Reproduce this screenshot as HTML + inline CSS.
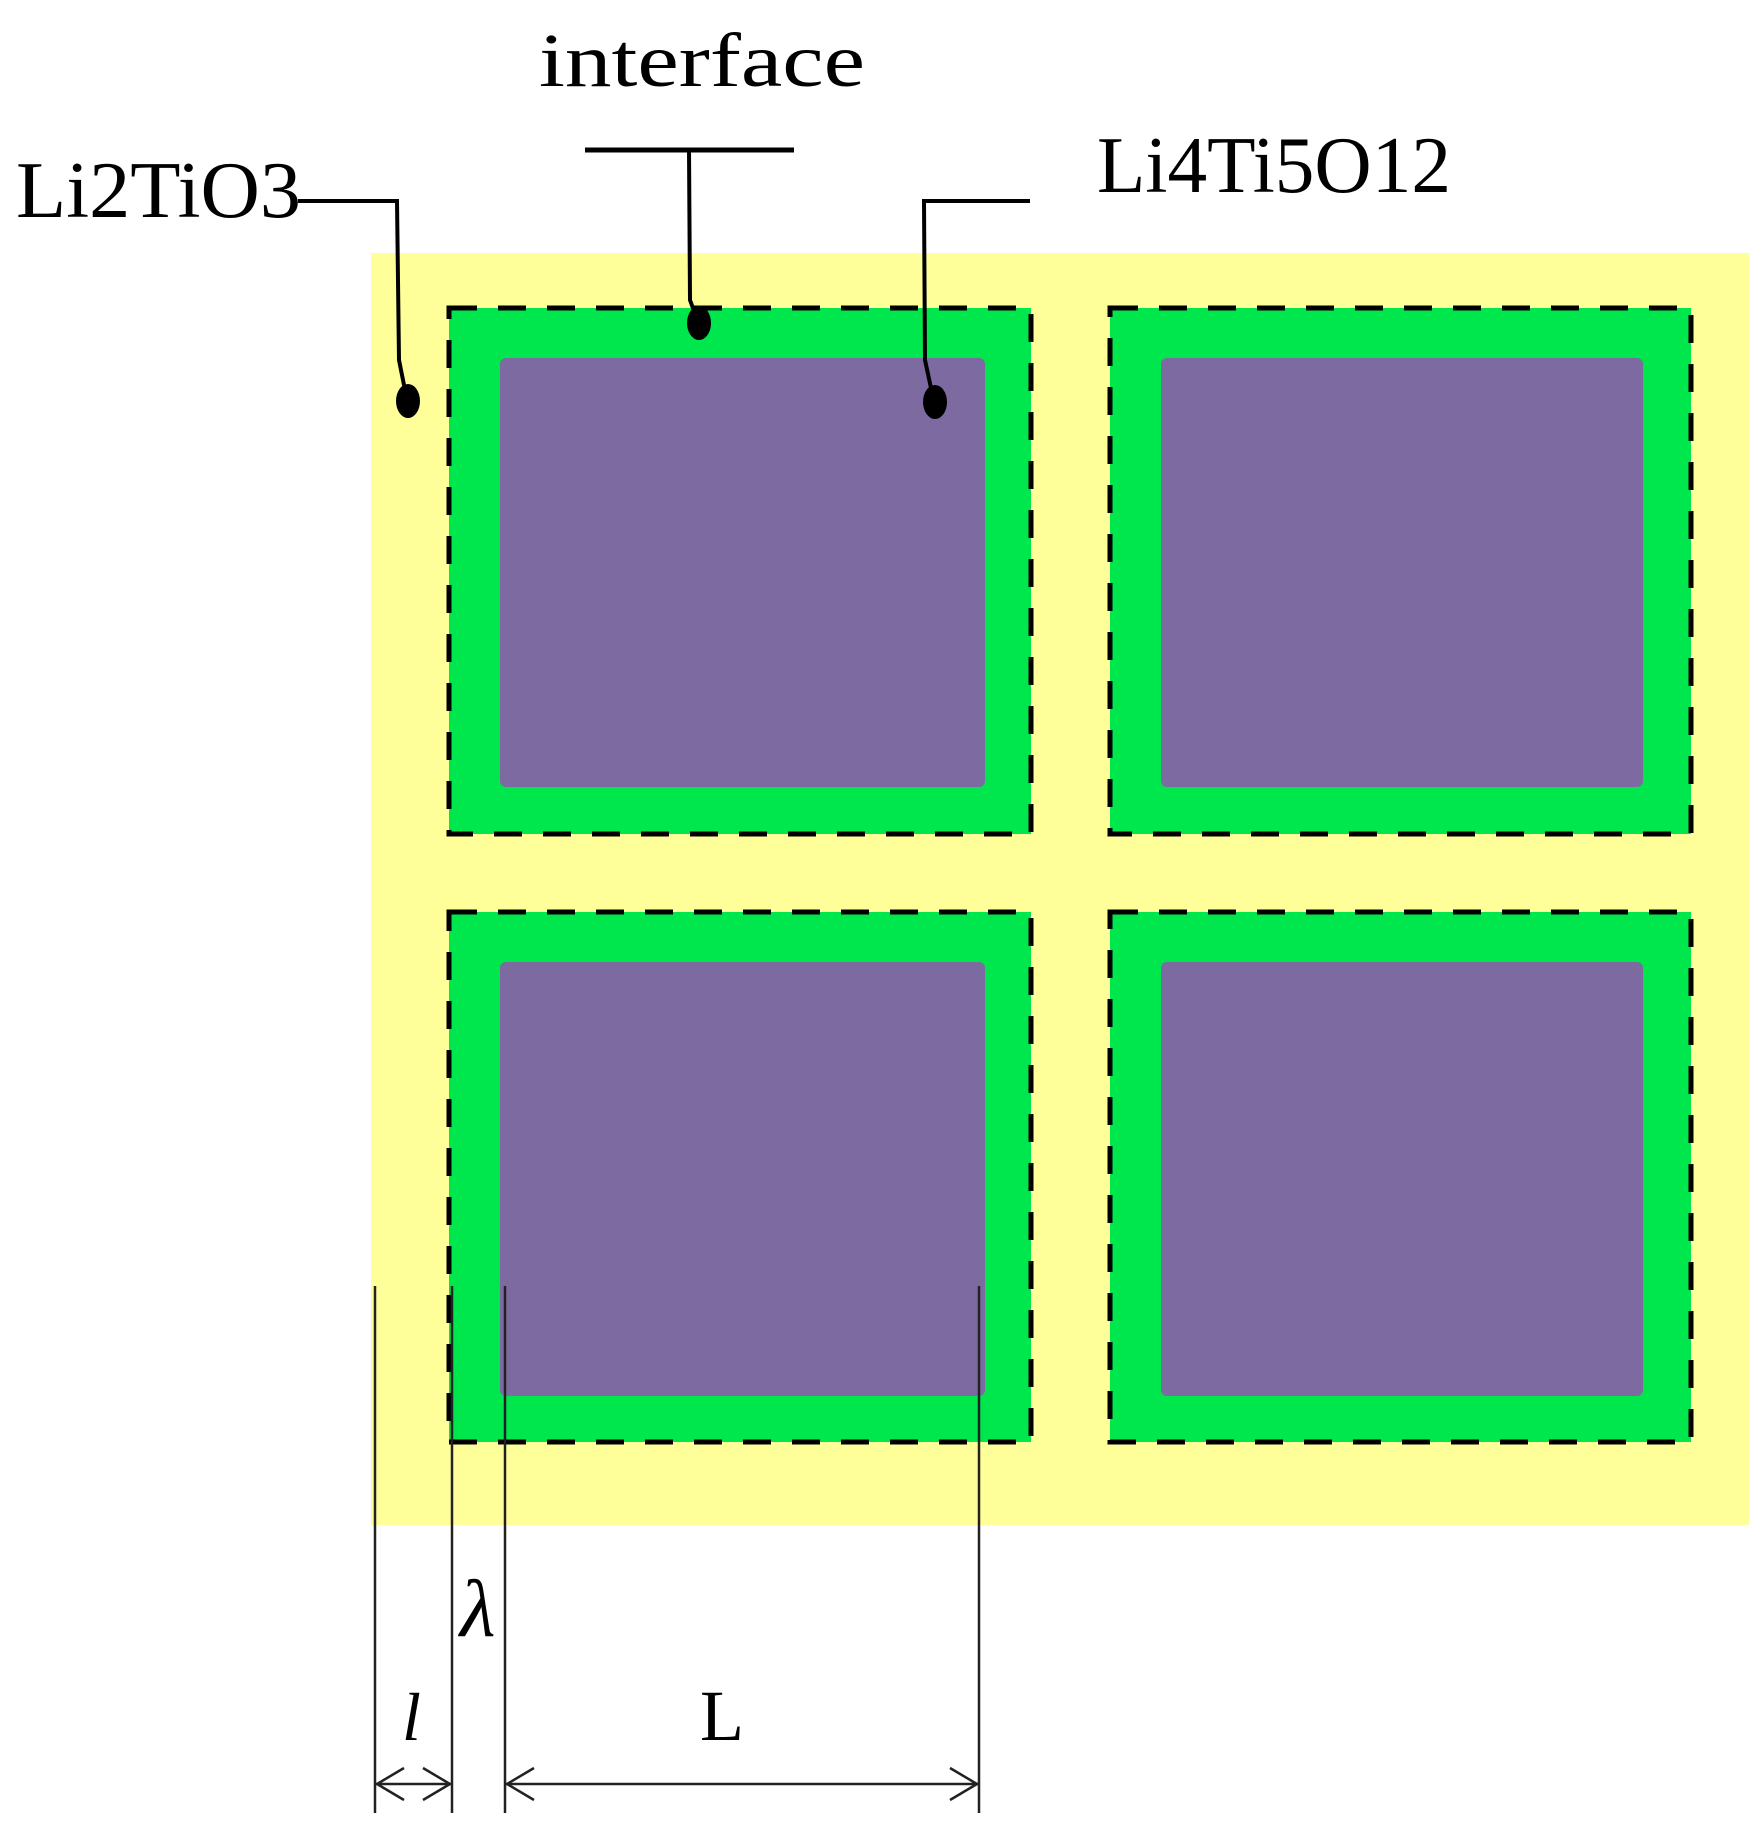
<!DOCTYPE html>
<html><head><meta charset="utf-8"><style>html,body{margin:0;padding:0;background:#fff}svg{display:block}</style></head>
<body>
<svg width="1763" height="1842" viewBox="0 0 1763 1842" xmlns="http://www.w3.org/2000/svg">
<rect x="371" y="253" width="1378" height="1272" fill="#ffff99"/>
<g>
<rect x="449" y="308" width="582" height="526" fill="#00e64d"/>
<rect x="1110" y="308" width="581" height="526" fill="#00e64d"/>
<rect x="449" y="912" width="582" height="530" fill="#00e64d"/>
<rect x="1110" y="912" width="581" height="530" fill="#00e64d"/>
<rect x="500" y="358" width="485" height="429" rx="6" fill="#7d6aa0"/>
<rect x="1161" y="358" width="482" height="429" rx="6" fill="#7d6aa0"/>
<rect x="500" y="962" width="485" height="434" rx="6" fill="#7d6aa0"/>
<rect x="1161" y="962" width="482" height="434" rx="6" fill="#7d6aa0"/>
</g>
<g fill="none" stroke="#000" stroke-width="5" stroke-dasharray="28 21">
<rect x="449" y="308" width="582" height="526"/>
<rect x="1110" y="308" width="581" height="526"/>
<rect x="449" y="912" width="582" height="530"/>
<rect x="1110" y="912" width="581" height="530"/>
</g>
<g fill="none" stroke="#000" stroke-width="4">
<polyline points="298,201 397,201 399,360 407,400"/>
<line x1="585" y1="150" x2="794" y2="150" stroke-width="5"/>
<polyline points="689,150 690,300 698,322"/>
<polyline points="1030,201 924,201 925,360 934,402"/>
</g>
<g fill="#000">
<ellipse cx="408" cy="401" rx="12" ry="17"/>
<ellipse cx="699" cy="323" rx="12" ry="17"/>
<ellipse cx="935" cy="402" rx="12" ry="17"/>
</g>
<g font-family="Liberation Serif, serif" fill="#000">
<text x="539" y="86" font-size="76" textLength="326" lengthAdjust="spacingAndGlyphs">interface</text>
<text x="16" y="217" font-size="80" textLength="285" lengthAdjust="spacingAndGlyphs">Li2TiO3</text>
<text x="1097" y="192" font-size="80" textLength="354" lengthAdjust="spacingAndGlyphs">Li4Ti5O12</text>
</g>
<g stroke="#222" stroke-width="2.5" fill="none">
<line x1="375" y1="1286" x2="375" y2="1813"/>
<line x1="452" y1="1286" x2="452" y2="1813"/>
<line x1="505" y1="1286" x2="505" y2="1813"/>
<line x1="979" y1="1286" x2="979" y2="1813"/>
<line x1="375" y1="1784" x2="452" y2="1784"/>
<line x1="505" y1="1784" x2="979" y2="1784"/>
<polyline points="404,1768 377,1784 404,1800"/>
<polyline points="423,1768 450,1784 423,1800"/>
<polyline points="534,1768 507,1784 534,1800"/>
<polyline points="950,1768 977,1784 950,1800"/>
</g>
<g font-family="Liberation Serif, serif" fill="#000">
<text x="402" y="1740" font-size="68" font-style="italic">l</text>
<text x="700" y="1740" font-size="72">L</text>
<text x="460" y="1636" font-size="82" font-style="italic">λ</text>
</g>
</svg>
</body></html>
